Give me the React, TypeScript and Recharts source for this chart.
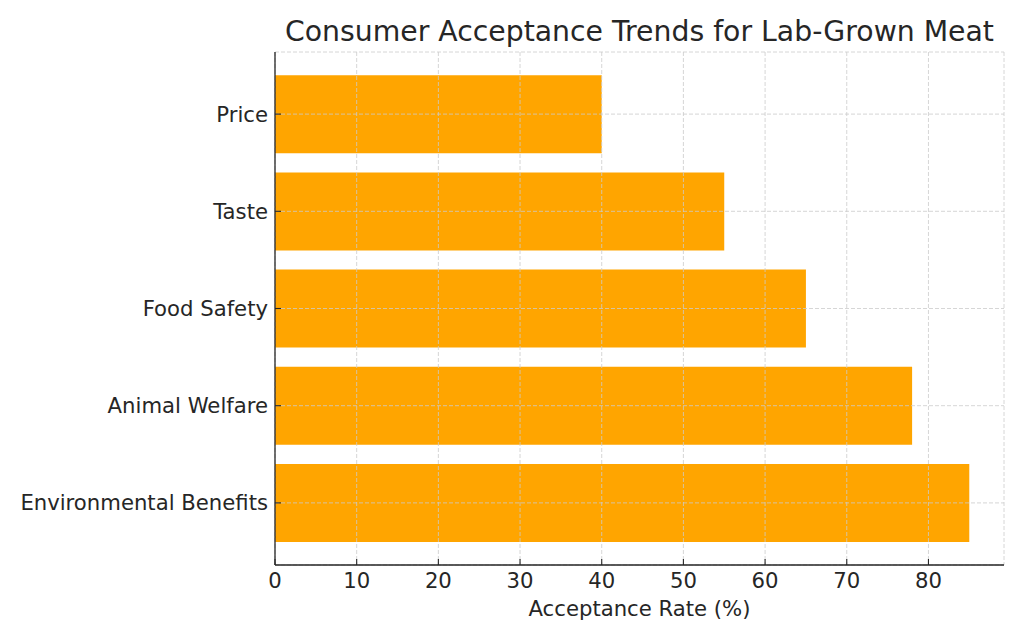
import { BarChart, Bar, XAxis, YAxis, CartesianGrid } from "recharts";

const factors = ["Price", "Taste", "Food Safety", "Animal Welfare", "Environmental Benefits"];
const acceptance = [40, 55, 65, 78, 85];
const xTicks = [0, 10, 20, 30, 40, 50, 60, 70, 80];

const data = factors.map((name, i) => ({ name, value: acceptance[i] }));

const TEXT = "#262626";
const FONT = "'DejaVu Sans', sans-serif";

export default function App() {
  return (
    <div
      style={{
        position: "absolute",
        left: 0,
        top: 0,
        width: 1024,
        height: 640,
        background: "#fff",
        fontFamily: FONT,
      }}
    >
      <div
        style={{
          position: "absolute",
          left: 275,
          width: 729,
          top: 12,
          textAlign: "center",
          fontSize: 28.3,
          color: TEXT,
          lineHeight: "40px",
          whiteSpace: "nowrap",
        }}
      >
        Consumer Acceptance Trends for Lab-Grown Meat
      </div>
      <BarChart
        width={1024}
        height={640}
        data={data}
        layout="vertical"
        margin={{ top: 52, right: 20, bottom: 0, left: 0 }}
        barCategoryGap="10%"
        style={{ position: "absolute", left: 0, top: 0 }}
      >
        <Bar dataKey="value" fill="#FFA500" isAnimationActive={false} />
        {/* grid sits above the bars, like the matplotlib original */}
        <CartesianGrid
          stroke="#cccccc"
          strokeDasharray="4 2"
          strokeWidth={0.8}
          zIndex={350}
        />
        <XAxis
          type="number"
          domain={[0, 89.25]}
          ticks={xTicks}
          allowDataOverflow
          height={75}
          tickSize={-6}
          tickMargin={14}
          tick={{ fill: TEXT, fontSize: 21.2, fontFamily: FONT }}
          axisLine={{ stroke: TEXT, strokeWidth: 1.3 }}
          tickLine={{ stroke: TEXT, strokeWidth: 1.1 }}
          label={{
            value: "Acceptance Rate (%)",
            position: "insideBottom",
            offset: 24,
            fill: TEXT,
            fontSize: 21.2,
            fontFamily: FONT,
          }}
        />
        <YAxis
          type="category"
          dataKey="name"
          width={275}
          padding={{ top: 13.5, bottom: 13.5 }}
          tickSize={-6}
          tickMargin={13}
          interval={0}
          tick={{ fill: TEXT, fontSize: 21.2, fontFamily: FONT }}
          axisLine={{ stroke: TEXT, strokeWidth: 1.3 }}
          tickLine={{ stroke: TEXT, strokeWidth: 1.1 }}
        />
      </BarChart>
    </div>
  );
}
